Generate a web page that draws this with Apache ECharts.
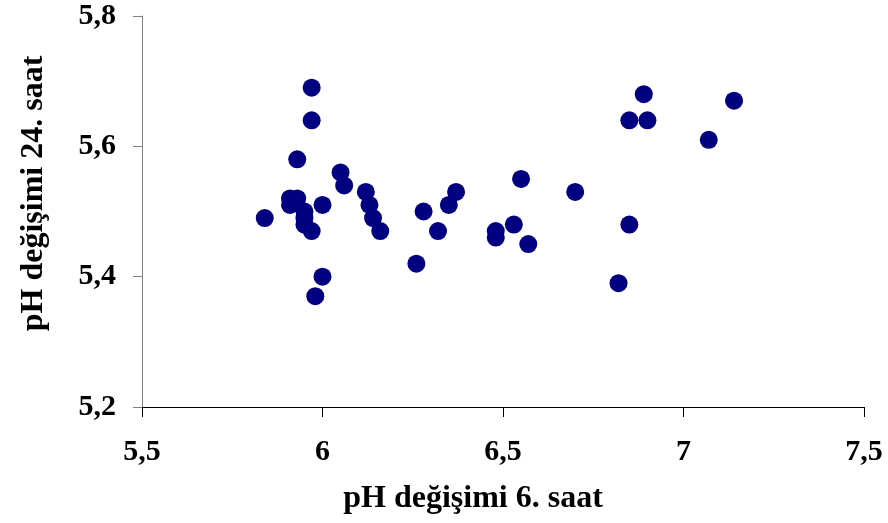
<!DOCTYPE html>
<html>
<head>
<meta charset="utf-8">
<script src="https://cdn.jsdelivr.net/npm/echarts@6/dist/echarts.min.js"></script>
<style>
  html, body { margin: 0; padding: 0; background: #fff; }
  #chart { width: 888px; height: 523px; }
</style>
</head>
<body>
<div id="chart"></div>
<script>
// pH 6. saat (x) / pH 24. saat (y)
var ph6 = [5.84, 5.97, 5.97, 5.93, 5.91, 5.93, 5.91, 5.95, 5.95, 5.95, 5.97, 6.00, 6.00, 5.98,
           6.05, 6.06, 6.12, 6.13, 6.14, 6.16, 6.26, 6.28, 6.32, 6.35, 6.37, 6.48, 6.48, 6.53,
           6.55, 6.57, 6.70, 6.82, 6.85, 6.85, 6.89, 6.90, 7.07, 7.14];
var ph24 = [5.49, 5.69, 5.64, 5.58, 5.52, 5.52, 5.51, 5.50, 5.49, 5.48, 5.47, 5.51, 5.40, 5.37,
            5.56, 5.54, 5.53, 5.51, 5.49, 5.47, 5.42, 5.50, 5.47, 5.51, 5.53, 5.47, 5.46, 5.48,
            5.55, 5.45, 5.53, 5.39, 5.64, 5.48, 5.68, 5.64, 5.61, 5.67];
var xTicks = [5.5, 6, 6.5, 7, 7.5];
var yTicks = [5.2, 5.4, 5.6, 5.8];
var xTitle = 'pH değişimi 6. saat';
var yTitle = 'pH değişimi 24. saat';

var points = ph6.map(function (v, i) { return [v, ph24[i]]; });
var font = '"Liberation Serif", "Times New Roman", serif';

var labelStyle = {
  color: '#000',
  fontFamily: font,
  fontWeight: 'bold',
  fontSize: 30
};

var option = {
  backgroundColor: '#fff',
  animation: false,
  grid: {
    left: 142,
    right: 24,
    top: 16,
    bottom: 116,
    containLabel: false
  },
  xAxis: {
    type: 'value',
    min: xTicks[0],
    max: xTicks[xTicks.length - 1],
    interval: 0.5,
    name: xTitle,
    nameLocation: 'middle',
    nameGap: 76,
    nameTextStyle: {
      color: '#000',
      fontFamily: font,
      fontWeight: 'bold',
      fontSize: 32,
      padding: [0, 60, 0, 0]
    },
    axisLine: { show: true, onZero: false, lineStyle: { color: '#000', width: 1 } },
    axisTick: { show: true, inside: false, length: 10, lineStyle: { color: '#000' } },
    axisLabel: Object.assign({
      margin: 30,
      formatter: function (v) { return String(v).replace('.', ','); }
    }, labelStyle),
    splitLine: { show: false }
  },
  yAxis: {
    type: 'value',
    min: yTicks[0],
    max: yTicks[yTicks.length - 1],
    interval: 0.2,
    name: yTitle,
    nameLocation: 'middle',
    nameGap: 92,
    nameTextStyle: {
      color: '#000',
      fontFamily: font,
      fontWeight: 'bold',
      fontSize: 32,
      padding: [0, 0, 0, 36]
    },
    axisLine: { show: true, onZero: false, lineStyle: { color: '#808080', width: 1 } },
    axisTick: { show: true, inside: false, length: 9, lineStyle: { color: '#808080' } },
    axisLabel: Object.assign({
      margin: 26,
      formatter: function (v) { return v.toFixed(1).replace('.', ','); }
    }, labelStyle),
    splitLine: { show: false }
  },
  series: [
    {
      name: 'pH',
      type: 'scatter',
      symbol: 'circle',
      symbolSize: 18,
      itemStyle: { color: '#000080', opacity: 1 },
      data: points
    }
  ]
};

var chart = echarts.init(document.getElementById('chart'), null, { renderer: 'canvas' });
chart.setOption(option);
</script>
</body>
</html>
